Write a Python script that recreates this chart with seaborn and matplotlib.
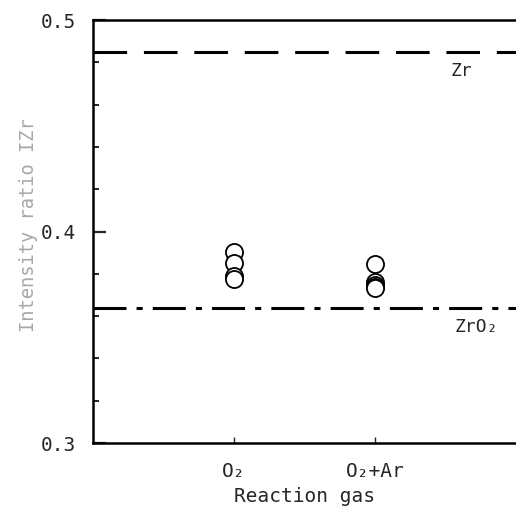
import matplotlib
matplotlib.use("Agg")
import matplotlib.pyplot as plt
import seaborn as sns
import pandas as pd
from matplotlib.ticker import MultipleLocator, FixedLocator, FuncFormatter

# ---- data ----
categories = ["O₂", "O₂+Ar"]
o2_values = [0.3905, 0.385, 0.379, 0.3775]
o2ar_values = [0.3845, 0.376, 0.3748, 0.3738, 0.3732]
zr_level = 0.485
zro2_level = 0.364
y_ticks = [0.3, 0.4, 0.5]

df = pd.DataFrame({
    "gas": [categories[0]] * len(o2_values) + [categories[1]] * len(o2ar_values),
    "ratio": o2_values + o2ar_values,
})

sns.set_style("ticks")
plt.rcParams["font.family"] = ["DejaVu Sans Mono", "DejaVu Sans"]

fig = plt.figure(figsize=(5.16, 5.17), dpi=100)
ax = fig.add_axes([0.180, 0.1431, 0.82, 0.8182])

sns.stripplot(data=df, x="gas", y="ratio", order=categories, jitter=False,
              marker="o", s=12.3, facecolor="white", edgecolor="black",
              linewidth=1.3, color="white", ax=ax, zorder=3)

ax.axhline(zr_level, color="black", lw=2.2, dashes=(11, 5.5), zorder=2)
ax.axhline(zro2_level, color="black", lw=2.2, dashes=(10.8, 3.3, 2, 3.3), zorder=2)

ax.set_xlim(-1, 2)
ax.set_ylim(0.3, 0.5)

ax.yaxis.set_major_locator(FixedLocator(y_ticks))
ax.yaxis.set_major_formatter(FuncFormatter(lambda v, p: f"{v:.1f}"))
ax.yaxis.set_minor_locator(MultipleLocator(0.02))
ax.tick_params(axis="y", which="major", direction="in", length=9, width=1.6,
               labelsize=14, pad=12)
ax.tick_params(axis="y", which="minor", direction="in", length=4.5, width=1.4)
ax.tick_params(axis="x", which="major", direction="in", length=4, width=1.0,
               labelsize=14, pad=14)

for s in ["left", "bottom", "top"]:
    ax.spines[s].set_linewidth(1.8)
    ax.spines[s].set_color("black")
ax.spines["right"].set_visible(False)

ax.set_xlabel("Reaction gas", fontsize=14, labelpad=4)
ax.set_ylabel("Intensity ratio IZr", fontsize=13.5, color="#a8a8a8", va="center")
ax.yaxis.set_label_coords(-0.151, 0.515)

ax.text(1.617, zr_level - 0.005, "Zr", fontsize=13, ha="center", va="top")
ax.text(1.72, zro2_level - 0.005, "ZrO₂", fontsize=13, ha="center", va="top")

fig.savefig("out.png", dpi=100)
